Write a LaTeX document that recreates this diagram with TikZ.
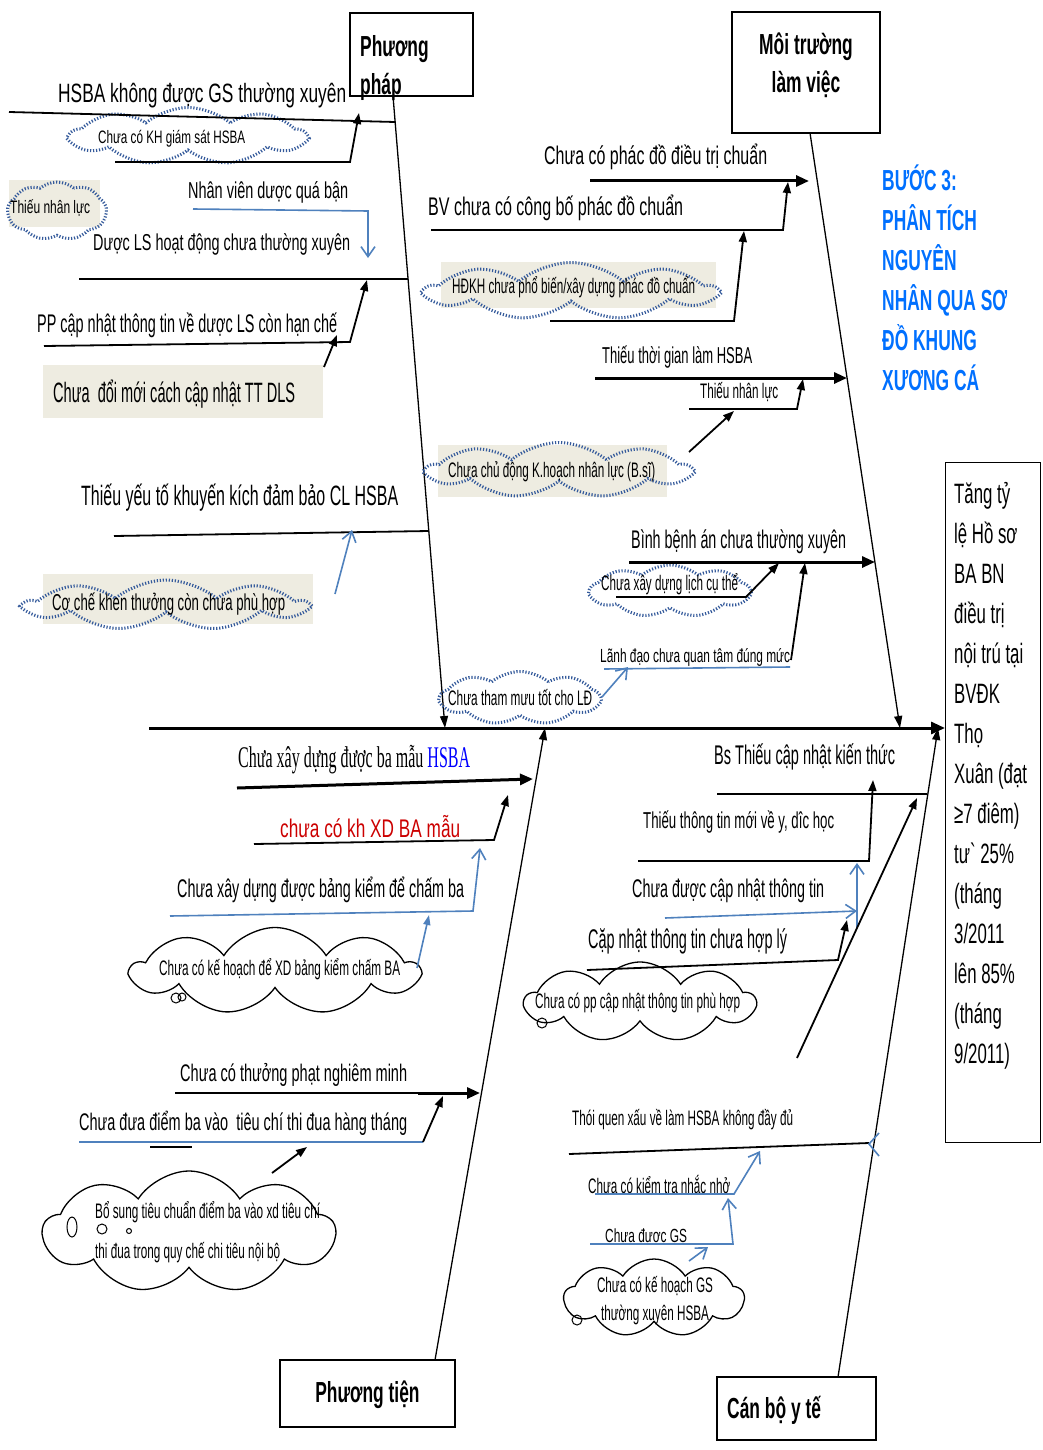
\documentclass[tikz,border=0pt]{standalone}
\usepackage{fontspec}
\usepackage{graphicx}
\setmainfont{Liberation Sans}
\newfontfamily\tallfont{Liberation Sans}[FakeStretch=0.6]
\newfontfamily\plainserif{Liberation Serif}
\usetikzlibrary{arrows.meta,shapes.symbols}
\definecolor{dotblue}{RGB}{52,90,155}
\definecolor{armblue}{RGB}{79,129,189}
\definecolor{paper}{RGB}{238,236,225}
\definecolor{headblue}{RGB}{0,112,255}
\definecolor{redtxt}{RGB}{204,0,0}
% text squeezed to a given width (pt) at a given size, baseline kept
\newcommand\fitto[3]{\resizebox{#1pt}{\height}{\fontsize{#2}{#2}\selectfont #3}}
\tikzset{
  lbl/.style={inner sep=0pt, anchor=base west},
  clbl/.style={inner sep=0pt, anchor=base},
  catlbl/.style={inner sep=0pt, anchor=base west, font=\tallfont\bfseries\fontsize{29}{29}\selectfont},
  box/.style={draw, line width=1.3pt, inner sep=0pt},
  bone/.style={line width=1.3pt, -{Triangle[length=12pt,width=8pt]}},
  arm/.style={line width=1.8pt},
  bigarm/.style={line width=3pt, -{Triangle[length=13pt,width=11pt]}},
  tip/.style={-{Triangle[length=11pt,width=8pt]}},
  barm/.style={draw=armblue, line width=1.6pt},
  btip/.style={-{Straight Barb[length=10pt,width=14pt]}},
  dcloud/.style={cloud, cloud puffs=9, cloud puff arc=80, draw=dotblue,
    line width=3pt, dash pattern=on 1.2pt off 1.8pt, inner sep=0pt},
  scloud/.style={cloud, cloud puffs=9, cloud puff arc=115, draw,
    line width=1.3pt, inner sep=0pt},
}
\begin{document}
\begin{tikzpicture}[x=1pt,y=-1pt]
\useasboundingbox (0,0) rectangle (1042,1450);
\fill[white] (0,0) rectangle (1042,1450);

% ---------- category boxes and the effect ----------
\node[box, minimum width=123pt, minimum height=83pt] (ppbox) at (411.5,54.5) {};
\node[catlbl] (pp1) at (360,57) {Phương};
\node[catlbl] (pp2) at (360,95) {pháp};

\node[box, minimum width=148pt, minimum height=121pt] (mtbox) at (806,72.5) {};
\node[catlbl, anchor=base] (mt1) at (806,55) {Môi trường};
\node[catlbl, anchor=base] (mt2) at (806,93) {làm việc};

\node[box, minimum width=175pt, minimum height=67pt] (ptbox) at (367.5,1393.5) {};
\node[catlbl, anchor=base] (pt1) at (367.5,1402) {Phương tiện};

\node[box, minimum width=159pt, minimum height=63pt] (cbbox) at (796.5,1408.5) {};
\node[catlbl] (cb1) at (727,1418) {Cán bộ y tế};

\node[box, line width=1.2pt, minimum width=95pt, minimum height=680pt, anchor=north west] (effect) at (945,462) {};
\foreach \t [count=\i from 0] in {{Tăng tỷ}, {lệ Hồ sơ}, {BA BN}, {điều trị}, {nội trú tại}, {BVĐK}, {Thọ},
    {Xuân (đạt}, {≥7 điêm)}, {tư` 25\%}, {(tháng}, {3/2011}, {lên 85\%}, {(tháng}, {9/2011)}}
  \node[inner sep=0pt, anchor=base west, font=\tallfont\fontsize{28}{28}\selectfont]
    (eff\i) at (954,{503+40*\i}) {\t};

% heading
\foreach \t [count=\i from 0] in {{BƯỚC 3:}, {PHÂN TÍCH}, {NGUYÊN}, {NHÂN QUA SƠ}, {ĐỒ KHUNG}, {XƯƠNG CÁ}}
  \node[catlbl, text=headblue] (head\i) at (882,{190+40*\i}) {\t};

% ---------- spine and bones ----------
\coordinate (tail) at (149,728);
\draw[line width=3pt, -{Triangle[length=14pt,width=12pt]}] (tail) -- (tail -| effect.west);

\coordinate (ppfoot) at (393,96);   \coordinate (ppjoin) at (445,728);
\coordinate (mtfoot) at (810,133);  \coordinate (mtjoin) at (900,728);
\coordinate (ptfoot) at (435,1360); \coordinate (ptjoin) at (545,728);
\coordinate (cbfoot) at (838,1377); \coordinate (cbjoin) at (938,728);
\draw[bone] (ppfoot) -- (ppjoin);
\draw[bone] (mtfoot) -- (mtjoin);
\draw[bone] (ptfoot) -- (ptjoin);
\draw[bone] (cbfoot) -- (cbjoin);

% ---------- method branch ----------
\fill[paper] (9,180) rectangle (100,227);
\fill[paper] (43,365) rectangle (323,418);
\fill[paper] (43,574) rectangle (313,624);
\node[dcloud, minimum width=235pt, minimum height=57pt] (ckh) at (188,136) {};
\node[dcloud, minimum width=99pt, minimum height=58pt] (cnl) at (57,211) {};
\node[dcloud, minimum width=281pt, minimum height=50pt] (ccc) at (166,605) {};

\node[lbl] (m1) at (58,103) {\fitto{288}{26.5}{HSBA không được GS thường xuyên}};
\node[lbl] (m1a) at (98,144) {\fitto{147}{18}{Chưa có KH giám sát HSBA}};
\node[lbl] (m1b) at (10,213) {\fitto{80}{18}{Thiếu nhân lực}};
\node[lbl] (m1c) at (188,198) {\fitto{160}{23}{Nhân viên dược quá bận}};
\node[lbl] (m2) at (93,250) {\fitto{257}{23}{Dược LS hoạt động chưa thường xuyên}};
\node[lbl] (m2a) at (37,332) {\fitto{300}{25.5}{PP cập nhật thông tin về dược LS còn hạn chế}};
\node[lbl] (m2b) at (53,402) {\fitto{242}{28}{Chưa\ \ đổi mới cách cập nhật TT DLS}};
\node[lbl] (m3) at (81,505) {\fitto{317}{28}{Thiếu yếu tố khuyến kích đảm bảo CL HSBA}};
\node[lbl] (m3a) at (52,610) {\fitto{233}{23}{Cơ chế khen thưởng còn chưa phù hợp}};

\coordinate (m1s) at (9,112);   \coordinate (m1e) at (395,122);
\draw[arm] (m1s) -- (m1e);
\coordinate (m1as) at (115,162); \coordinate (m1ak) at (350,162); \coordinate (m1at) at (359,113);
\draw[arm, tip] (m1as) -- (m1ak) -- (m1at);
\coordinate (m1cs) at (193,209); \coordinate (m1ck) at (368,211); \coordinate (m1ct) at (368,258);
\draw[barm, btip] (m1cs) -- (m1ck) -- (m1ct);
\coordinate (m2s) at (79,279);  \coordinate (m2e) at (408,279);
\draw[arm] (m2s) -- (m2e);
\coordinate (m2as) at (44,346); \coordinate (m2ak) at (350,342); \coordinate (m2at) at (367,280);
\draw[arm, tip] (m2as) -- (m2ak) -- (m2at);
\coordinate (m2bs) at (324,367); \coordinate (m2bt) at (337,335);
\draw[arm, tip] (m2bs) -- (m2bt);
\coordinate (m3s) at (114,536); \coordinate (m3e) at (429,531);
\draw[arm] (m3s) -- (m3e);
\coordinate (m3as) at (335,594); \coordinate (m3at) at (352,530);
\draw[barm, btip] (m3as) -- (m3at);

% ---------- environment branch ----------
\fill[paper] (441,262) rectangle (716,308);
\fill[paper] (438,445) rectangle (667,497);
\node[dcloud, minimum width=290pt, minimum height=57pt] (chd) at (571,291) {};
\node[dcloud, minimum width=263pt, minimum height=55pt] (ccd) at (559,470) {};
\node[dcloud, minimum width=160pt, minimum height=52pt] (clc) at (670,591) {};
\node[dcloud, minimum width=160pt, minimum height=53pt] (ctm) at (520,698) {};

\node[lbl] (e1) at (544,165) {\fitto{223}{25.5}{Chưa có phác đồ điều trị chuẩn}};
\node[lbl] (e1a) at (428,215) {\fitto{255}{25.5}{BV chưa có công bố phác đồ chuẩn}};
\node[lbl] (e1b) at (452,293) {\fitto{243}{21}{HĐKH chưa phổ biến/xây dựng phác đồ chuẩn}};
\node[lbl] (e2) at (602,363) {\fitto{150}{23}{Thiếu thời gian làm HSBA}};
\node[lbl] (e2a) at (700,398) {\fitto{78}{21}{Thiếu nhân lực}};
\node[lbl] (e2b) at (448,477) {\fitto{207}{21}{Chưa chủ động K.hoạch nhân lực (B.sĩ)}};
\node[lbl] (e3) at (631,548) {\fitto{215}{25.5}{Bình bệnh án chưa thường xuyên}};
\node[lbl] (e3a) at (601,590) {\fitto{137}{21}{Chưa xây dựng lịch cụ thể}};
\node[lbl] (e3b) at (600,662) {\fitto{190}{19}{Lãnh đạo chưa quan tâm đúng mức}};
\node[lbl] (e3c) at (448,705) {\fitto{144}{21}{Chưa tham mưu tốt cho LĐ}};

\coordinate (e1s) at (590,181); \coordinate (e1e) at (809,181);
\draw[bigarm] (e1s) -- (e1e);
\coordinate (e1as) at (431,230); \coordinate (e1ak) at (783,230); \coordinate (e1at) at (788,182);
\draw[arm, tip] (e1as) -- (e1ak) -- (e1at);
\coordinate (e1bs) at (550,321); \coordinate (e1bk) at (734,321); \coordinate (e1bt) at (744,231);
\draw[arm, tip] (e1bs) -- (e1bk) -- (e1bt);
\coordinate (e2s) at (595,378); \coordinate (e2e) at (847,378);
\draw[bigarm] (e2s) -- (e2e);
\coordinate (e2as) at (689,409); \coordinate (e2ak) at (797,409); \coordinate (e2at) at (803,379);
\draw[arm, tip] (e2as) -- (e2ak) -- (e2at);
\coordinate (e2bs) at (689,452); \coordinate (e2bt) at (734,411);
\draw[arm, tip] (e2bs) -- (e2bt);
\coordinate (e3s) at (629,562); \coordinate (e3e) at (875,562);
\draw[bigarm] (e3s) -- (e3e);
\coordinate (e3as) at (616,597); \coordinate (e3ak) at (746,597); \coordinate (e3at) at (779,563);
\draw[arm, tip] (e3as) -- (e3ak) -- (e3at);
\coordinate (e3bs) at (604,669); \coordinate (e3bk) at (790,667);
\draw[barm] (e3bs) -- (e3bk);
\coordinate (e3bu) at (791,660); \coordinate (e3bt) at (805,563);
\draw[arm, tip] (e3bu) -- (e3bt);
\coordinate (e3cs) at (602,697); \coordinate (e3ct) at (628,667);
\draw[barm, btip] (e3cs) -- (e3ct);

% ---------- means branch ----------
\node[scloud, minimum width=287pt, minimum height=87pt] (cbk) at (275,971) {};
\node[scloud, minimum width=292pt, minimum height=122pt] (cbs) at (189,1232) {};
\draw[line width=1pt] (176,998) circle (5pt) (182,997) circle (4pt);
\draw[line width=1pt] (72,1227) ellipse (5pt and 10pt);
\draw[line width=1pt] (102,1229) circle (5pt) (129,1231) circle (2.5pt);

\node[lbl] (t1) at (238,767) {\plainserif\fitto{232}{30}{Chưa xây dựng được ba mẫu \textcolor{blue}{HSBA}}};
\node[lbl, text=redtxt] (t1a) at (280,837) {\fitto{180}{25.5}{chưa có kh XD BA mẫu}};
\node[lbl] (t1b) at (177,897) {\fitto{287}{25.5}{Chưa xây dựng được bảng kiểm để chấm ba}};
\node[lbl] (t1c) at (159,975) {\fitto{241}{21}{Chưa có kế hoạch để XD bảng kiểm chấm BA}};
\node[lbl] (t2) at (180,1081) {\fitto{227}{24}{Chưa có thưởng phạt nghiêm minh}};
\node[lbl] (t2a) at (79,1130) {\fitto{328}{24}{Chưa đưa điểm ba vào\ \ tiêu chí thi đua hàng tháng}};
\node[lbl] (t2b) at (95,1218) {\fitto{225}{21}{Bổ sung tiêu chuẩn điểm ba vào xd tiêu chí}};
\node[lbl] (t2c) at (95,1258) {\fitto{185}{21}{thi đua trong quy chế chi tiêu nội bộ}};

\coordinate (t1s) at (237,788); \coordinate (t1e) at (533,779);
\draw[bigarm] (t1s) -- (t1e);
\coordinate (t1as) at (254,844); \coordinate (t1ak) at (494,840); \coordinate (t1at) at (508,795);
\draw[arm, tip] (t1as) -- (t1ak) -- (t1at);
\coordinate (t1bs) at (170,916); \coordinate (t1bk) at (473,911); \coordinate (t1bt) at (480,848);
\draw[barm, btip] (t1bs) -- (t1bk) -- (t1bt);
\coordinate (t1cs) at (417,968); \coordinate (t1ct) at (429,915);
\draw[barm, -{Triangle[length=10pt,width=7pt]}, fill=armblue] (t1cs) -- (t1ct);
\coordinate (t2s) at (175,1093); \coordinate (t2k) at (418,1093); \coordinate (t2e) at (480,1093);
\draw[line width=1.3pt] (t2s) -- (t2k);
\draw[bigarm] (t2k) -- (t2e);
\coordinate (t2as) at (79,1142); \coordinate (t2ak) at (423,1142); \coordinate (t2at) at (443,1096);
\draw[barm] (t2as) -- (t2ak);
\draw[arm, tip] (t2ak) -- (t2at);
\coordinate (t2ds) at (150,1147); \coordinate (t2de) at (192,1147);
\draw[line width=1.3pt] (t2ds) -- (t2de);
\coordinate (t2bs) at (272,1173); \coordinate (t2bt) at (307,1147);
\draw[arm, tip] (t2bs) -- (t2bt);

% ---------- staff branch ----------
\node[scloud, minimum width=230pt, minimum height=80pt] (cpp) at (640,1002) {};
\node[scloud, minimum width=180pt, minimum height=78pt] (cgs) at (654,1298) {};
\draw[line width=1pt] (542,1023) circle (5pt);
\draw[line width=1pt] (577,1320) circle (5pt);

\node[lbl] (s1) at (714,764) {\fitto{181}{27}{Bs Thiếu cập nhật kiến thức}};
\node[lbl] (s1a) at (643,828) {\fitto{191}{23}{Thiếu thông tin mới về y, dîc học}};
\node[lbl] (s1b) at (632,897) {\fitto{192}{25.5}{Chưa được cập nhật thông tin}};
\node[lbl] (s1c) at (588,948) {\fitto{199}{27}{Cặp nhật thông tin chưa hợp lý}};
\node[lbl] (s1d) at (535,1008) {\fitto{205}{21}{Chưa có pp cập nhật thông tin phù hợp}};
\node[lbl] (s2) at (572,1125) {\fitto{221}{21}{Thói quen xấu về làm HSBA không đầy đủ}};
\node[lbl] (s2a) at (588,1193) {\fitto{142}{21}{Chưa có kiểm tra nhắc nhở}};
\node[lbl] (s2b) at (605,1242) {\fitto{82}{19}{Chưa được GS}};
\node[clbl] (s2c) at (655,1292) {\fitto{116}{21}{Chưa có kế hoạch GS}};
\node[clbl] (s2d) at (655,1320) {\fitto{108}{21}{thường xuyên HSBA}};

\coordinate (s1s) at (717,794); \coordinate (s1e) at (927,794);
\draw[arm] (s1s) -- (s1e);
\coordinate (s1as) at (638,861); \coordinate (s1ak) at (869,861); \coordinate (s1at) at (873,780);
\draw[arm, tip] (s1as) -- (s1ak) -- (s1at);
\coordinate (s1bs) at (665,918); \coordinate (s1bt) at (857,911);
\draw[barm, btip] (s1bs) -- (s1bt);
\coordinate (s1bu) at (857,928); \coordinate (s1bv) at (857,863);
\draw[barm, btip] (s1bu) -- (s1bv);
\coordinate (s1cs) at (587,970); \coordinate (s1ck) at (838,960); \coordinate (s1ct) at (847,920);
\draw[arm, tip] (s1cs) -- (s1ck) -- (s1ct);
\coordinate (s1ls) at (797,1058); \coordinate (s1lt) at (917,798);
\draw[arm, tip] (s1ls) -- (s1lt);
\coordinate (s2s) at (569,1154); \coordinate (s2e) at (869,1143);
\draw[arm] (s2s) -- (s2e);
\draw[barm] (879,1133) -- (869,1144) -- (879,1156);
\coordinate (s2as) at (595,1194); \coordinate (s2ak) at (734,1194); \coordinate (s2at) at (760,1151);
\draw[barm, btip] (s2as) -- (s2ak) -- (s2at);
\coordinate (s2bs) at (590,1244); \coordinate (s2bk) at (733,1244); \coordinate (s2bt) at (728,1198);
\draw[barm, btip] (s2bs) -- (s2bk) -- (s2bt);
\coordinate (s2cs) at (689,1261); \coordinate (s2ct) at (708,1247);
\draw[barm, btip] (s2cs) -- (s2ct);
\end{tikzpicture}
\end{document}
